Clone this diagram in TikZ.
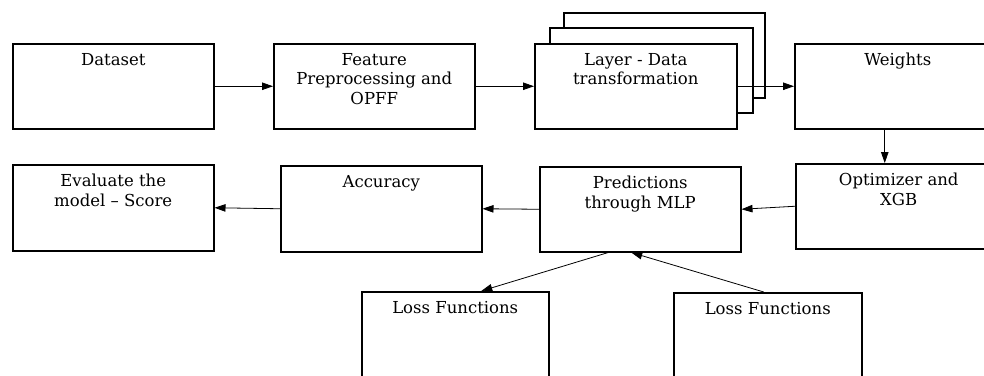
\documentclass[tikz,border=0pt]{standalone}
\usepackage{fontspec}
\setmainfont{DejaVu Serif}
\usetikzlibrary{arrows.meta}
\begin{document}
\begin{tikzpicture}[x=1pt, y=-1pt,
  box/.style={draw, line width=1.5pt, fill=white, anchor=north west, inner sep=0pt},
  lbl/.style={anchor=north, yshift=-10pt, inner sep=0pt, align=center,
              font=\fontsize{16.5}{19.5}\selectfont},
  arr/.style={line width=0.8pt, -{Triangle[length=11pt,width=7.5pt]}}]
\useasboundingbox (0,0) rectangle (984,375);
\clip (0,0) rectangle (984,375);

% top row
\node[box, minimum width=201pt, minimum height=85pt, label={[lbl]north:Dataset}] (ds) at (12,43) {};
\node[box, minimum width=201pt, minimum height=85pt,
      label={[lbl]north:Feature\\Preprocessing and\\OPFF}] (fp) at (273,43) {};

% stacked layer boxes
\node[box, minimum width=201pt, minimum height=85pt] (l3) at (563,12) {};
\node[box, minimum width=203pt, minimum height=85pt] (l2) at (549,27) {};
\node[box, minimum width=202pt, minimum height=85pt,
      label={[lbl]north:Layer - Data\\transformation}] (l1) at (534,43) {};

\node[box, minimum width=206pt, minimum height=85pt, label={[lbl]north:Weights}] (wt) at (794,43) {};

% middle row
\node[box, minimum width=206pt, minimum height=85pt,
      label={[lbl]north:Optimizer and\\XGB}] (opt) at (795,163) {};
\node[box, minimum width=201pt, minimum height=85pt,
      label={[lbl]north:Predictions\\through MLP}] (pred) at (539,166) {};
\node[box, minimum width=201pt, minimum height=86pt,
      label={[lbl]north:Accuracy}] (acc) at (280,165) {};
\node[box, minimum width=201pt, minimum height=86pt,
      label={[lbl]north:Evaluate the\\model – Score}] (ev) at (12,164) {};

% bottom row
\node[box, minimum width=187pt, minimum height=100pt,
      label={[lbl]north:Loss Functions}] (lossa) at (361,291) {};
\node[box, minimum width=188pt, minimum height=100pt,
      label={[lbl]north:Loss Functions}] (lossb) at (673,292) {};

% connectors
\draw[arr] (ds.east) -- (fp.west);
\draw[arr] (fp.east) -- (l1.west);
\draw[arr] (l1.east) -- (wt.west);
\draw[arr] ([xshift=-13pt]wt.south) -- ([xshift=-13pt]wt.south |- opt.north);
\draw[arr] (opt.west) -- (pred.east);
\draw[arr] (pred.west) -- (acc.east);
\draw[arr] (acc.west) -- (ev.east);
\draw[arr] ([xshift=-32pt]pred.south) -- ([xshift=26pt]lossa.north);
\draw[arr] ([xshift=-4pt]lossb.north) -- ([xshift=-9pt]pred.south);
\end{tikzpicture}
\end{document}
